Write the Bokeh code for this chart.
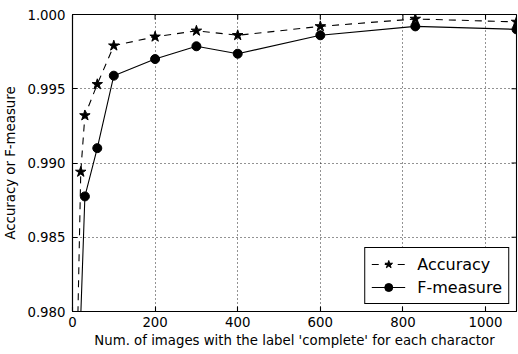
from bokeh.plotting import figure
from bokeh.models import (Range1d, FixedTicker, NumeralTickFormatter,
                          Legend, LegendItem)
from bokeh.embed import file_html
from bokeh.resources import INLINE

# ---- data ----
acc_x = [10, 20, 30, 60, 100, 200, 300, 400, 600, 830, 1075]
accuracy = [0.9755, 0.9894, 0.9932, 0.9953, 0.9979, 0.9985, 0.9989, 0.9986, 0.9992, 0.9997, 0.9995]
f_x = [20, 30, 60, 100, 200, 300, 400, 600, 830, 1075]
f_measure = [0.9797, 0.98775, 0.9910, 0.99588, 0.9970, 0.99786, 0.99736, 0.9986, 0.9992, 0.9990]
x_ticks = [0, 200, 400, 600, 800, 1000]
y_ticks = [0.980, 0.985, 0.990, 0.995, 1.000]
x_label = "Num. of images with the label 'complete' for each charactor"
y_label = "Accuracy or F-measure"
x_min, x_max = 0, 1075
y_min, y_max = 0.980, 1.000

FONT = "DejaVu Sans"
FS = "13.3px"

W, H = 518, 354
BL, BR, BT, BB = 71, 2, 14, 43

p = figure(width=W, height=H, output_backend="svg", toolbar_location=None,
           x_range=Range1d(x_min, x_max), y_range=Range1d(y_min, y_max),
           min_border_left=BL, min_border_right=BR, min_border_top=BT, min_border_bottom=BB)
p.background_fill_color = "white"
p.border_fill_color = "white"
p.outline_line_color = "black"
p.outline_line_width = 1.1
p.outline_line_alpha = 1.0

for ax, ticks in ((p.xaxis[0], x_ticks), (p.yaxis[0], y_ticks)):
    ax.ticker = FixedTicker(ticks=ticks)
    ax.major_tick_in = 5
    ax.major_tick_out = 0
    ax.minor_tick_line_color = None
    ax.axis_line_color = "black"
    ax.axis_line_width = 1.1
    ax.major_tick_line_width = 1.1
    ax.major_label_text_font = FONT
    ax.major_label_text_font_size = FS
    ax.major_label_text_color = "black"
    ax.axis_label_text_font = FONT
    ax.axis_label_text_font_size = FS
    ax.axis_label_text_font_style = "normal"
    ax.axis_label_text_color = "black"

p.xaxis[0].axis_label = x_label
p.yaxis[0].axis_label = y_label
p.yaxis[0].formatter = NumeralTickFormatter(format="0.000")
p.xaxis[0].major_label_standoff = 5
p.yaxis[0].major_label_standoff = 7
p.xaxis[0].axis_label_standoff = 3
p.yaxis[0].axis_label_standoff = 6

# inward tick marks on the top and right edges (5 px long)
frame_w = W - BL - BR
frame_h = H - BT - BB
dx_tick = 5 * (x_max - x_min) / frame_w
dy_tick = 5 * (y_max - y_min) / frame_h
p.segment(x0=x_ticks, y0=[y_max] * len(x_ticks), x1=x_ticks, y1=[y_max - dy_tick] * len(x_ticks),
          line_color="black", line_width=1.1)
p.segment(x0=[x_max] * len(y_ticks), y0=y_ticks, x1=[x_max - dx_tick] * len(y_ticks), y1=y_ticks,
          line_color="black", line_width=1.1)

for g in (p.xgrid[0], p.ygrid[0]):
    g.grid_line_color = "black"
    g.grid_line_dash = "1 3"
    g.grid_line_width = 1
    g.grid_line_alpha = 0.85
p.xgrid[0].ticker = FixedTicker(ticks=x_ticks)
p.ygrid[0].ticker = FixedTicker(ticks=y_ticks)

acc_line = p.line(acc_x, accuracy, line_color="black", line_width=1.1, line_dash="7 6")
acc_pts = p.scatter(acc_x, accuracy, marker="star", size=11, fill_color="black", line_color="black")
f_line = p.line(f_x, f_measure, line_color="black", line_width=1.1)
f_pts = p.scatter(f_x, f_measure, marker="circle", size=9, fill_color="black", line_color="black")

legend = Legend(items=[LegendItem(label="Accuracy", renderers=[acc_line, acc_pts]),
                       LegendItem(label="F-measure", renderers=[f_line, f_pts])],
                location="bottom_right")
legend.margin = 7
legend.padding = 6
legend.spacing = 3
legend.glyph_width = 34
legend.glyph_height = 20
legend.label_height = 20
legend.label_standoff = 12
legend.label_text_font = FONT
legend.label_text_font_size = "16px"
legend.label_text_color = "black"
legend.border_line_color = "black"
legend.border_line_width = 1.1
legend.border_line_alpha = 1.0
legend.background_fill_color = "white"
legend.background_fill_alpha = 1.0
p.add_layout(legend, "center")

open("out.html", "w").write(file_html(p, INLINE))
